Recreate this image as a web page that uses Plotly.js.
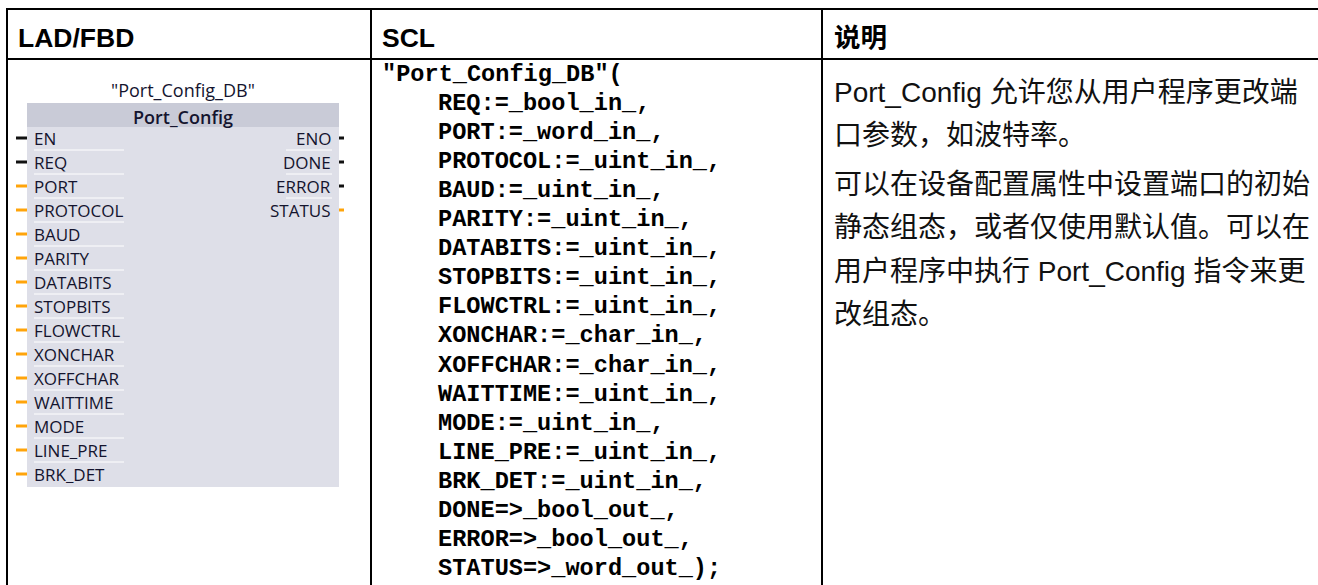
<!DOCTYPE html>
<html>
<head>
<meta charset="utf-8">
<script src="https://cdn.plot.ly/plotly-3.0.1.min.js"></script>
<style>
html,body{margin:0;padding:0;background:#fff;overflow:hidden;}
#chart{width:1318px;height:585px;}
</style>
</head>
<body>
<div id="chart"></div>
<script>
// ---- data ----
const headers = ['LAD/FBD', 'SCL', '说明'];
const instanceName = '"Port_Config_DB"';
const blockName = 'Port_Config';
const inputPins = ['EN','REQ','PORT','PROTOCOL','BAUD','PARITY','DATABITS','STOPBITS','FLOWCTRL','XONCHAR','XOFFCHAR','WAITTIME','MODE','LINE_PRE','BRK_DET'];
const inputTypes = ['en','bool','word','uint','uint','uint','uint','uint','uint','char','char','uint','uint','uint','uint'];
const outputPins = ['ENO','DONE','ERROR','STATUS'];
const outputTypes = ['eno','bool','bool','word'];
const sclHead = '"Port_Config_DB"(';
const sclParams = [
  'REQ:=_bool_in_,',
  'PORT:=_word_in_,',
  'PROTOCOL:=_uint_in_,',
  'BAUD:=_uint_in_,',
  'PARITY:=_uint_in_,',
  'DATABITS:=_uint_in_,',
  'STOPBITS:=_uint_in_,',
  'FLOWCTRL:=_uint_in_,',
  'XONCHAR:=_char_in_,',
  'XOFFCHAR:=_char_in_,',
  'WAITTIME:=_uint_in_,',
  'MODE:=_uint_in_,',
  'LINE_PRE:=_uint_in_,',
  'BRK_DET:=_uint_in_,',
  'DONE=>_bool_out_,',
  'ERROR=>_bool_out_,',
  'STATUS=>_word_out_);'
];
const descParagraphs = [
  ['Port_Config 允许您从用户程序更改端', '口参数，如波特率。'],
  ['可以在设备配置属性中设置端口的初始', '静态组态，或者仅使用默认值。可以在', '用户程序中执行 Port_Config 指令来更', '改组态。']
];

// ---- layout geometry ----
const W = 1318, H = 585;
const tableLeft = 7, tableTop = 9, headerBottom = 59;
const colX = [7, 371, 822];
const textPad = [10, 10, 11];
const boxX0 = 27, boxX1 = 339, boxY0 = 103, bandY1 = 127, boxY1 = 487;
const pinY0 = 138, pinStep = 24;
const sclX = 381, sclIndentX = 437, sclY0 = 74, sclStep = 29.1;
const descX = 833, descY0 = 92, descStep = 43.5, paraGap = 5;

const ORANGE = '#ffa40a';
const LABEL = '#14142e';
function pinColor(t) { return (t === 'en' || t === 'eno' || t === 'bool') ? '#111111' : ORANGE; }

const shapes = [];
const annotations = [];
function line(x0, y0, x1, y1, color, width) {
  shapes.push({type: 'line', xref: 'x', yref: 'y', x0, y0, x1, y1, line: {color, width}});
}
function rect(x0, y0, x1, y1, fill) {
  shapes.push({type: 'rect', xref: 'x', yref: 'y', x0, y0, x1, y1, fillcolor: fill, line: {width: 0}, layer: 'below'});
}
function text(t, x, y, font, xanchor) {
  annotations.push({text: t, x, y, xref: 'x', yref: 'y', showarrow: false,
    xanchor: xanchor || 'left', yanchor: 'middle', align: xanchor === 'center' ? 'center' : (xanchor || 'left'),
    font, borderpad: 0});
}

// table grid
line(tableLeft - 1, tableTop, W, tableTop, '#000', 2);
line(tableLeft - 1, headerBottom, W, headerBottom, '#000', 2);
colX.forEach(x => line(x, tableTop - 1, x, H, '#000', 2));

// headers
const headFont = {family: 'Liberation Sans, Arial, "Noto Sans CJK SC", sans-serif', size: 26.5, color: '#000', weight: 'bold'};
headers.forEach((h, i) => text(h, colX[i] + textPad[i], 37.5, headFont));

// LAD/FBD block
rect(boxX0, boxY0, boxX1, boxY1, '#dedfe8');
rect(boxX0, boxY0, boxX1, bandY1, '#c9cbd7');
const midX = (boxX0 + boxX1) / 2;
text(instanceName, midX, 90, {family: 'Open Sans, sans-serif', size: 18, color: LABEL}, 'center');
text(blockName, midX, 116.5, {family: 'Open Sans, sans-serif', size: 18, color: LABEL, weight: 600}, 'center');
const pinFont = {family: 'Open Sans, sans-serif', size: 17, color: LABEL};
inputPins.forEach((p, i) => {
  const y = pinY0 + i * pinStep;
  line(16, y, boxX0, y, pinColor(inputTypes[i]), 3);
  if (i > 0) line(34, y - pinStep / 2, 124, y - pinStep / 2, '#ffffff', 1);
  text(p, 33, y, pinFont);
});
outputPins.forEach((p, i) => {
  const y = pinY0 + i * pinStep;
  line(boxX1, y, 344, y, pinColor(outputTypes[i]), 3);
  if (i > 0) line(286, y - pinStep / 2, 332, y - pinStep / 2, '#ffffff', 1);
  text(p, 332, y, pinFont, 'right');
});

// SCL column
const monoFont = {family: 'Liberation Mono, Courier New, monospace', size: 23.6, color: '#000', weight: 'bold'};
text(sclHead, sclX, sclY0, monoFont);
sclParams.forEach((s, i) => text(s, sclIndentX, sclY0 + (i + 1) * sclStep, monoFont));

// description column
const descFont = {family: 'Liberation Sans, Arial, "Noto Sans CJK SC", sans-serif', size: 28, color: '#111'};
let y = descY0;
descParagraphs.forEach((para, pi) => {
  if (pi > 0) y += paraGap;
  para.forEach(l => { text(l, descX, y, descFont); y += descStep; });
});

const data = [{x: [0, W], y: [0, H], type: 'scatter', mode: 'none', hoverinfo: 'skip', showlegend: false}];
const layout = {
  width: W, height: H, margin: {l: 0, r: 0, t: 0, b: 0, pad: 0},
  paper_bgcolor: '#fff', plot_bgcolor: '#fff', showlegend: false,
  xaxis: {range: [0, W], visible: false, fixedrange: true},
  yaxis: {range: [H, 0], visible: false, fixedrange: true},
  shapes, annotations
};
Plotly.newPlot('chart', data, layout, {staticPlot: true, displayModeBar: false});
</script>
</body>
</html>
